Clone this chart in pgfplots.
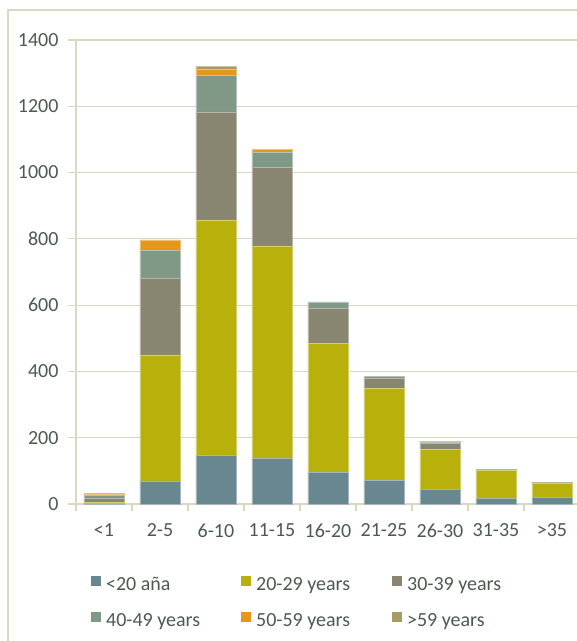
\documentclass[border=0pt]{standalone}
\usepackage{pgfplots}
\usepackage{pgfplotstable}
\pgfplotsset{compat=1.18}
\usepackage{fontspec}
\setmainfont{Carlito}
\definecolor{gridc}{RGB}{217,217,195}
\definecolor{txt}{RGB}{74,90,80}
\definecolor{cA}{RGB}{104,135,145}
\definecolor{cB}{RGB}{184,176,11}
\definecolor{cC}{RGB}{136,134,113}
\definecolor{cD}{RGB}{127,153,134}
\definecolor{cE}{RGB}{227,152,27}
\definecolor{cF}{RGB}{166,155,101}
\pgfplotstableread{
x a b c d e f
0 2 3 12 10 3 1
1 70 380 231 85 29 2
2 147 710 326 110 20 8
3 137 642 236 47 7 2
4 96 389 107 16 1 1
5 71 278 29 6 1 1
6 44 121 18 4 1 0
7 18 83 2 1 0 0
8 19 45 1 0 0 0
}\datatable
\begin{document}
\begin{tikzpicture}
\useasboundingbox (0pt,0pt) rectangle (577pt,641pt);
\draw[gridc, line width=1.2pt] (8pt,0pt) -- (8pt,631pt) -- (600pt,631pt);
\begin{axis}[
  at={(76pt,137pt)}, anchor=south west,
  scale only axis, width=504pt, height=464pt,
  ybar stacked, bar width=40pt,
  xmin=-0.5, xmax=8.5, ymin=0, ymax=1400,
  axis x line*=bottom, axis y line*=left,
  axis line style={gridc, line width=1.2pt},
  ymajorgrids, grid style={gridc, line width=1.2pt},
  ytick={0,200,...,1400},
  xtick={0,...,8},
  xticklabels={<1,2-5,6-10,11-15,16-20,21-25,26-30,31-35,>35},
  xtick style={draw=none},
  ytick style={draw=gridc, line width=1.2pt},
  tick align=outside, major tick length=8pt,
  extra x ticks={-0.5,0.5,...,8.5},
  extra x tick labels={},
  extra x tick style={grid=none, xtick style={draw=gridc, line width=1.2pt}, major tick length=7pt},
  ticklabel style={font=\fontsize{20}{24}\selectfont, text=txt},
  /pgf/number format/assume math mode=true,
  /pgf/number format/1000 sep={},
  yticklabel style={xshift=-6pt},
  xticklabel style={yshift=-8pt},
  legend columns=3,
  legend style={draw=none, fill=none, inner sep=0pt, outer sep=0pt,
    anchor=north west, at={(axis description cs:0.03,-0.155)},
    column sep=0pt, row sep=17pt,
    font=\fontsize{20}{24}\selectfont, text=txt,
    nodes={inner sep=0pt, text height=14pt, text depth=4pt}},
  legend image code/.code={\fill[#1, draw=none] (0pt,-0pt) rectangle (10pt,10pt);},
  every axis plot/.append style={line width=0.5pt},
]
\addplot[fill=cA, draw=cA!60!white] table[x=x,y=a]{\datatable};
\addplot[fill=cB, draw=cB!60!white] table[x=x,y=b]{\datatable};
\addplot[fill=cC, draw=cC!60!white] table[x=x,y=c]{\datatable};
\addplot[fill=cD, draw=cD!60!white] table[x=x,y=d]{\datatable};
\addplot[fill=cE, draw=cE!60!white] table[x=x,y=e]{\datatable};
\addplot[fill=cF, draw=cF!60!white] table[x=x,y=f]{\datatable};
\addlegendentry{\makebox[140pt][l]{\hspace{5pt}<20 aña}}
\addlegendentry{\makebox[141pt][l]{\hspace{5pt}20-29 years}}
\addlegendentry{\makebox[140pt][l]{\hspace{5pt}30-39 years}}
\addlegendentry{\makebox[140pt][l]{\hspace{5pt}40-49 years}}
\addlegendentry{\makebox[141pt][l]{\hspace{5pt}50-59 years}}
\addlegendentry{\makebox[140pt][l]{\hspace{5pt}>59 years}}
\end{axis}
\end{tikzpicture}
\end{document}
